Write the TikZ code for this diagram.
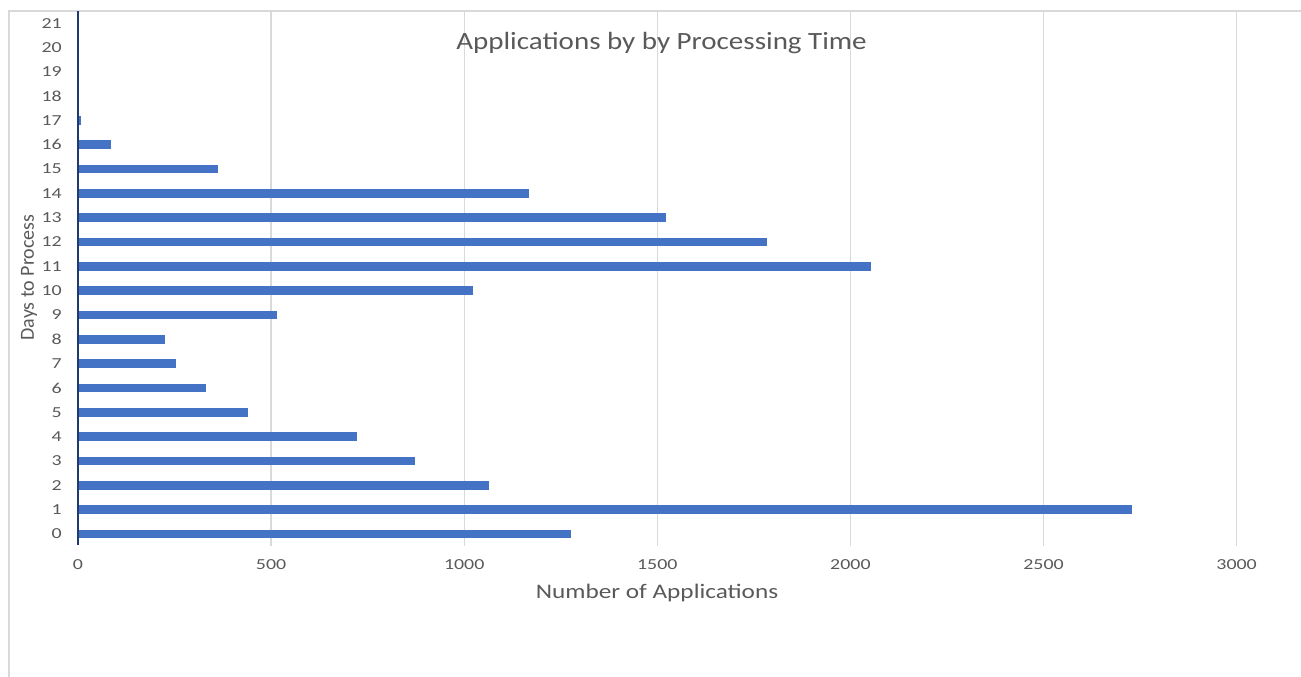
\documentclass[tikz,border=0pt]{standalone}
\usepackage{fontspec}
\setmainfont{Carlito}
\newfontfamily\tickfont[FakeStretch=1.30]{Carlito}
\newfontfamily\titlefont[FakeStretch=1.17]{Carlito}
\newfontfamily\axisfont[FakeStretch=1.22]{Carlito}
\definecolor{barblue}{HTML}{4472C4}
\definecolor{labelgray}{HTML}{595959}
\definecolor{gridgray}{HTML}{D9D9D9}
\definecolor{axisnavy}{HTML}{1F3A6E}
\tikzset{
  hbar/.style={fill=barblue},
  gridline/.style={draw=gridgray, line width=1.3pt},
  ticklabel/.style={text=labelgray, inner sep=0pt, font=\tickfont\fontsize{15.3}{18}\selectfont},
  charttitle/.style={text=labelgray, inner sep=0pt, anchor=base, font=\titlefont\fontsize{24.8}{30}\selectfont},
  axistitle/.style={text=labelgray, inner sep=0pt, font=\axisfont\fontsize{20.7}{24}\selectfont}
}

\begin{document}
\begin{tikzpicture}[x=1pt, y=1pt]
\useasboundingbox (0,0) rectangle (1301,677);
% chart frame
\draw[gridgray, line width=1.5pt] (9,0) -- (9,666) -- (1301,666);
% value grid
\foreach \g in {1,...,6}
  \draw[gridline] ({78+193.1*\g},131) -- ({78+193.1*\g},666);
% bars, days 0 to 17
\foreach \v [count=\i from 0] in {1276,2728,1063,873,723,439,331,255,225,514,1022,2053,1785,1522,1169,363,86,7}
  \fill[hbar] (78,{138.7+24.33*\i}) rectangle ++({0.3862*\v},8.6);
% value axis labels
\foreach \t [count=\g from 0] in {0,500,...,3000}
  \node[ticklabel, anchor=base] (xt\g) at ({78+193.1*\g},107) {\t};
% category axis labels
\foreach \d in {0,...,21}
  \node[ticklabel, anchor=east] (yt\d) at (62,{143+24.33*\d}) {\d};
% category axis
\draw[axisnavy, line width=2pt] (78,132) -- (78,666);
\node[charttitle] (title) at (661.5,627.7) {Applications by by Processing Time};
\node[axistitle, anchor=base] (xtitle) at (657,78) {Number of Applications};
\node[axistitle, font=\fontsize{20}{24}\selectfont, rotate=90] (ytitle) at (29,399.5) {Days to Process};
\end{tikzpicture}
\end{document}
